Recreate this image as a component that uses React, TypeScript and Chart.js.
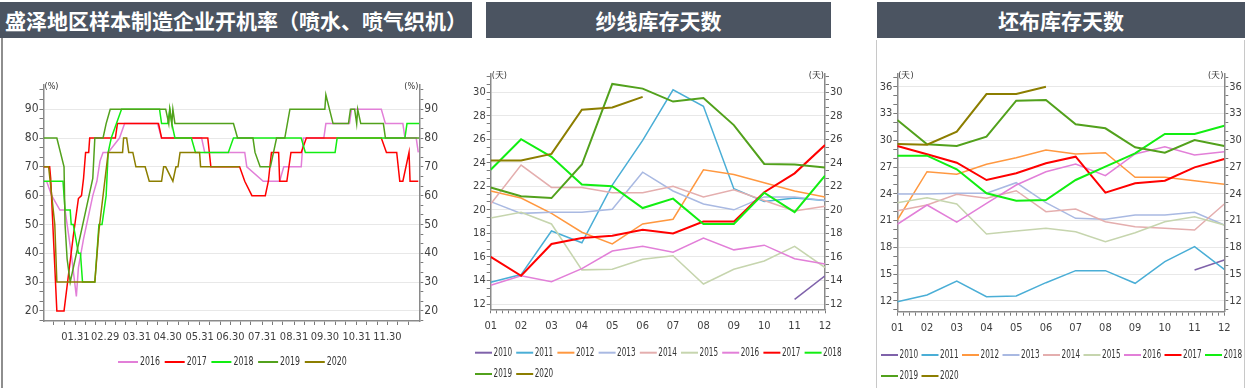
import React, { useEffect, useRef } from 'react';
import { Chart, registerables } from 'chart.js';

Chart.register(...registerables);

const TICK_FONT = '"Liberation Sans Narrow", "DejaVu Sans Condensed", "Liberation Sans", Arial, sans-serif';
const TITLE_BG = '#4b5461';

const yearColors: Record<string, string> = {
  '2010': '#7f62aa',
  '2011': '#4aaed6',
  '2012': '#ff9840',
  '2013': '#a9b9e2',
  '2014': '#e4aeae',
  '2015': '#c6d5ae',
  '2016': '#e27fd8',
  '2017': '#ff0000',
  '2018': '#12ee12',
  '2019': '#52a11c',
  '2020': '#8c7e00',
};

// ---------- Chart 1: operating rate (day of year, %) ----------
const rateYears = ['2016', '2017', '2018', '2019', '2020'];
const rate2016 = [[3,65],[8,60],[16,55],[21,55],[23,50],[27,40],[32,25],[34,35],[39,45],[45,55],[48,60],[52,65],[55,72],[58,75],[63,75],[74,80],[79,85],[111,85],[115,80],[154,80],[157,75],[196,75],[198,70],[214,65],[230,65],[234,70],[251,70],[253,80],[273,80],[275,85],[298,85],[300,90],[329,90],[333,85],[350,85],[352,80],[363,80],[365,75]];
const rate2017 = [[0,70],[6,70],[7,66],[13,20],[20,20],[29,46],[34,59],[37,60],[39,66],[41,75],[44,75],[45,80],[70,80],[72,85],[112,85],[115,80],[160,80],[163,70],[191,70],[196,65],[203,60],[216,60],[219,65],[222,75],[229,75],[230,65],[237,65],[241,75],[251,75],[256,80],[329,80],[334,75],[344,75],[347,65],[350,65],[356,75],[357,65],[365,65]];
const rate2018 = [[0,65],[19,65],[21,55],[26,55],[27,50],[29,50],[34,40],[36,40],[38,30],[50,30],[54,50],[57,50],[61,60],[63,75],[66,80],[76,90],[113,90],[115,85],[121,85],[123,90],[125,85],[128,80],[144,80],[148,75],[180,75],[185,80],[251,80],[255,75],[284,75],[286,80],[352,80],[354,85],[366,85]];
const rate2019 = [[0,80],[13,80],[20,70],[21,50],[23,38],[26,30],[48,66],[50,80],[58,80],[61,85],[65,90],[119,90],[122,85],[123,90],[125,85],[126,90],[128,85],[185,85],[189,80],[204,80],[206,75],[211,70],[221,70],[227,80],[235,80],[240,90],[274,90],[275,95],[282,85],[297,85],[299,90],[303,90],[305,85],[306,90],[309,85],[331,85],[333,80],[366,80]];
const rate2020 = [[0,70],[5,70],[11,50],[13,30],[50,30],[54,48],[63,75],[77,75],[78,80],[81,80],[83,75],[87,75],[90,70],[99,70],[103,65],[115,65],[117,70],[119,70],[126,65],[129,70],[131,70],[133,75],[152,75],[153,70],[191,70]];
const rateSeries = [rate2016, rate2017, rate2018, rate2019, rate2020];
const monthEndDays = [31, 60, 91, 121, 152, 182, 213, 244, 274, 305, 335];
const monthEndLabels = ['01.31', '02.29', '03.31', '04.30', '05.31', '06.30', '07.31', '08.31', '09.30', '10.31', '11.30'];
const monthStartDays = [1, 32, 61, 92, 122, 153, 183, 214, 245, 275, 306, 336];
const rateTicks = [20, 30, 40, 50, 60, 70, 80, 90];

// ---------- Chart 2: yarn inventory days ----------
const months = ['01', '02', '03', '04', '05', '06', '07', '08', '09', '10', '11', '12'];
const stockYears = ['2010', '2011', '2012', '2013', '2014', '2015', '2016', '2017', '2018', '2019', '2020'];
const yarn2010 = [null, null, null, null, null, null, null, null, null, null, 12.4, 14.4];
const yarn2011 = [13.85, 14.5, 18.2, 17.2, 22.1, 25.9, 30.2, 28.8, 21.8, 20.7, 21.0, 20.8];
const yarn2012 = [21.6, 21.0, 19.7, 18.1, 17.1, 18.8, 19.2, 23.4, 23.0, 22.3, 21.6, 21.1];
const yarn2013 = [20.7, 19.7, 19.8, 19.8, 20.05, 23.2, 21.6, 20.5, 20.0, 21.1, 21.1, 20.8];
const yarn2014 = [20.5, 23.8, 21.9, 21.9, 21.45, 21.45, 22.0, 21.1, 21.7, 20.8, 19.9, 20.3];
const yarn2015 = [19.3, 19.8, 18.8, 14.9, 14.95, 15.8, 16.1, 13.7, 14.95, 15.65, 16.9, 15.1];
const yarn2016 = [13.6, 14.4, 13.9, 15.0, 16.5, 16.9, 16.4, 17.6, 16.6, 17.0, 15.85, 15.4];
const yarn2017 = [16.0, 14.4, 17.1, 17.6, 17.8, 18.3, 18.0, 19.0, 19.0, 21.5, 23.1, 25.5];
const yarn2018 = [23.4, 26.0, 24.5, 22.15, 22.0, 20.15, 20.95, 18.8, 18.8, 21.45, 19.8, 22.9];
const yarn2019 = [21.9, 21.15, 21.0, 23.85, 30.7, 30.3, 29.2, 29.5, 27.2, 23.9, 23.85, 23.6];
const yarn2020 = [24.2, 24.2, 24.75, 28.5, 28.7, 29.6];
const yarnSeries = [yarn2010, yarn2011, yarn2012, yarn2013, yarn2014, yarn2015, yarn2016, yarn2017, yarn2018, yarn2019, yarn2020];
const yarnTicks = [12, 14, 16, 18, 20, 22, 24, 26, 28, 30];

// ---------- Chart 3: grey fabric inventory days ----------
const cloth2010 = [null, null, null, null, null, null, null, null, null, null, 15.47, 16.59];
const cloth2011 = [11.92, 12.67, 14.24, 12.48, 12.56, 14.05, 15.4, 15.4, 13.98, 16.4, 18.08, 15.55];
const cloth2012 = [21.07, 26.48, 26.19, 27.31, 28.05, 28.91, 28.46, 28.61, 25.85, 25.85, 25.47, 25.07];
const cloth2013 = [23.98, 23.98, 24.06, 24.06, 25.25, 23.01, 21.26, 21.15, 21.63, 21.63, 21.94, 20.51];
const cloth2014 = [22.11, 22.75, 23.95, 23.5, 24.35, 22.0, 22.3, 20.88, 20.32, 20.14, 19.95, 22.86];
const cloth2015 = [23.01, 23.57, 22.86, 19.5, 19.84, 20.14, 19.76, 18.64, 19.65, 20.88, 21.44, 20.51];
const cloth2016 = [20.59, 22.75, 20.82, 22.94, 24.99, 26.48, 27.34, 26.03, 28.46, 29.28, 28.35, 28.72];
const cloth2017 = [29.36, 28.43, 27.49, 25.55, 26.3, 27.42, 28.16, 24.13, 25.18, 25.47, 26.97, 27.9];
const cloth2018 = [28.27, 28.27, 26.75, 24.06, 23.23, 23.31, 25.55, 27.04, 28.54, 30.7, 30.7, 31.63];
const cloth2019 = [32.27, 29.55, 29.36, 30.4, 34.43, 34.51, 31.79, 31.34, 29.21, 28.61, 30.03, 29.36];
const cloth2020 = [29.58, 29.5, 30.96, 35.18, 35.18, 36.0];
const clothSeries = [cloth2010, cloth2011, cloth2012, cloth2013, cloth2014, cloth2015, cloth2016, cloth2017, cloth2018, cloth2019, cloth2020];
const clothTicks = [12, 15, 18, 21, 24, 27, 30, 33, 36];

// ---------- helpers ----------
function minorTicks(base: number, step: number, div: number, min: number, max: number) {
  const out: number[] = [];
  for (let k = -200; k <= 200; k++) {
    if (k % div === 0) continue;
    const v = base + (k * step) / div;
    if (v >= min - 1e-9 && v <= max + 1e-9) out.push(v);
  }
  return out;
}

const decorPlugin = {
  id: 'decor',
  afterDraw(chart: any, _args: any, opts: any) {
    const ctx = chart.ctx;
    const { left, right, top } = chart.chartArea;
    ctx.save();
    ctx.fillStyle = '#333';
    ctx.font = `9px ${TICK_FONT}`;
    ctx.textBaseline = 'middle';
    ctx.textAlign = 'left';
    ctx.fillText(opts.unit, left + 1, top + 2);
    ctx.textAlign = 'right';
    ctx.fillText(opts.unit, right - 1, top + 2);
    const lg = opts.legend;
    ctx.font = `${lg.size}px ${TICK_FONT}`;
    ctx.textAlign = 'left';
    chart.data.datasets.forEach((d: any, i: number) => {
      const row = Math.floor(i / lg.perRow);
      const col = i % lg.perRow;
      const x = lg.x + col * lg.pitch;
      const y = lg.ys[row];
      ctx.strokeStyle = d.borderColor;
      ctx.lineWidth = 2;
      ctx.beginPath();
      ctx.moveTo(x, y);
      ctx.lineTo(x + lg.swatch, y);
      ctx.stroke();
      const tx = x + lg.swatch + lg.gap;
      const w = ctx.measureText(d.label).width;
      ctx.fillStyle = '#333';
      if (w > lg.textW) {
        ctx.save();
        ctx.translate(tx, y);
        ctx.scale(lg.textW / w, 1);
        ctx.fillText(d.label, 0, 0);
        ctx.restore();
      } else {
        ctx.fillText(d.label, tx, y);
      }
    });
    ctx.restore();
  },
};

function yAxis(pos: 'left' | 'right', min: number, max: number, majors: number[], minors: number[], width: number, size: number) {
  const all = [...majors, ...minors].sort((a, b) => a - b);
  return {
    type: 'linear',
    position: pos,
    min,
    max,
    afterBuildTicks: (s: any) => { s.ticks = all.map((v) => ({ value: v })); },
    afterFit: (s: any) => { s.width = width; },
    ticks: {
      autoSkip: false,
      padding: 1,
      color: '#404040',
      font: { size, family: TICK_FONT },
      callback: (v: number) => (majors.includes(v) ? String(v) : ''),
    },
    grid: {
      drawOnChartArea: pos === 'left',
      color: (c: any) => (c.tick && majors.includes(c.tick.value) ? '#e8e8e8' : 'rgba(0,0,0,0)'),
      tickColor: '#7a7a7a',
      tickLength: 4,
      lineWidth: 1,
    },
    border: { color: '#8a8a8a', width: 1.5 },
  };
}

function xAxis(min: number, max: number, majors: number[], labels: string[], minors: number[], height: number, size: number) {
  const all = [...majors, ...minors].sort((a, b) => a - b);
  return {
    type: 'linear',
    position: 'bottom',
    min,
    max,
    afterBuildTicks: (s: any) => { s.ticks = all.map((v) => ({ value: v })); },
    afterFit: (s: any) => { s.height = height; },
    ticks: {
      autoSkip: false,
      maxRotation: 0,
      minRotation: 0,
      padding: 6,
      color: '#404040',
      font: { size, family: TICK_FONT },
      callback: (v: number) => {
        const i = majors.indexOf(v);
        return i >= 0 ? labels[i] : '';
      },
    },
    grid: {
      drawOnChartArea: false,
      tickColor: '#7a7a7a',
      tickLength: 4,
      lineWidth: 1,
    },
    border: { color: '#8a8a8a', width: 1.5 },
  };
}

function monthlyDatasets(years: string[], series: (number | null)[][]) {
  return years.map((yr, i) => ({
    label: yr,
    data: series[i].map((v, k) => ({ x: k + 1, y: v })),
    borderColor: yearColors[yr],
    backgroundColor: yearColors[yr],
    borderWidth: ['2017', '2018', '2019', '2020'].includes(yr) ? 2 : 1.5,
    pointRadius: 0,
    tension: 0,
    fill: false,
    order: -i,
  }));
}

function rateConfig() {
  const yMin = 16.5, yMax = 98.4;
  const xMinors = monthStartDays.flatMap((s) => [s + 9, s + 19]);
  return {
    type: 'line',
    data: {
      datasets: rateYears.map((yr, i) => ({
        label: yr,
        data: rateSeries[i].map(([x, y]) => ({ x, y })),
        borderColor: yearColors[yr],
        backgroundColor: yearColors[yr],
        borderWidth: 1.5,
        pointRadius: 0,
        tension: 0,
        fill: false,
        order: -i,
      })),
    },
    options: {
      animation: false,
      responsive: false,
      devicePixelRatio: 1,
      layout: { padding: { left: 4.5, right: 20.7, top: 45, bottom: 37 } },
      plugins: {
        legend: { display: false },
        tooltip: { enabled: false },
        decor: { unit: '(%)', legend: { x: 114, ys: [322], perRow: 5, pitch: 46.7, swatch: 20, gap: 2, textW: 20, size: 12 } },
      },
      scales: {
        x: xAxis(0, 366, monthEndDays, monthEndLabels, xMinors, 30, 11),
        y: yAxis('left', yMin, yMax, rateTicks, minorTicks(20, 10, 3, yMin, yMax), 35, 12),
        y2: yAxis('right', yMin, yMax, rateTicks, minorTicks(20, 10, 3, yMin, yMax), 30, 12),
      },
    },
    plugins: [decorPlugin],
  };
}

function stockConfig(series: (number | null)[][], yMin: number, yMax: number, majors: number[], step: number, pad: any, wL: number, wR: number, legend: any) {
  const mins = minorTicks(majors[0], step, 3, yMin, yMax);
  const monthNums = months.map((_, i) => i + 1);
  return {
    type: 'line',
    data: { datasets: monthlyDatasets(stockYears, series) },
    options: {
      animation: false,
      responsive: false,
      devicePixelRatio: 1,
      layout: { padding: pad },
      plugins: {
        legend: { display: false },
        tooltip: { enabled: false },
        decor: { unit: '(天)', legend },
      },
      scales: {
        x: xAxis(1, 12, monthNums, months, minorTicks(1, 1, 5, 1, 12), 25, 11),
        y: yAxis('left', yMin, yMax, majors, mins, wL, 11),
        y2: yAxis('right', yMin, yMax, majors, mins, wR, 11),
      },
    },
    plugins: [decorPlugin],
  };
}

function ChartBox({ config, left, top, width, height }: any) {
  const ref = useRef<HTMLCanvasElement | null>(null);
  useEffect(() => {
    const chart = new Chart(ref.current as HTMLCanvasElement, config());
    return () => chart.destroy();
  }, []);
  return (
    <canvas
      ref={ref}
      width={width}
      height={height}
      style={{ position: 'absolute', left, top, width, height }}
    />
  );
}

function TitleBar({ text, left, width }: any) {
  return (
    <div
      style={{
        position: 'absolute',
        left,
        top: 2,
        width,
        height: 36,
        background: TITLE_BG,
        color: '#fff',
        fontFamily: '"Noto Sans CJK SC", sans-serif',
        fontWeight: 700,
        fontSize: 21,
        lineHeight: '36px',
        textAlign: 'center',
        whiteSpace: 'nowrap',
        overflow: 'hidden',
      }}
    >
      {text}
    </div>
  );
}

export default function App() {
  return (
    <div style={{ position: 'fixed', left: 0, top: 0, width: 1249, height: 388, background: '#fff', overflow: 'hidden' }}>
      <TitleBar text="盛泽地区样本制造企业开机率（喷水、喷气织机）" left={0} width={472} />
      <TitleBar text="纱线库存天数" left={486} width={345} />
      <TitleBar text="坯布库存天数" left={877} width={368} />
      <div style={{ position: 'absolute', left: 1, top: 38, width: 2, height: 350, background: '#8e8e8e' }} />
      <div style={{ position: 'absolute', left: 876, top: 40, width: 1, height: 348, background: '#c8c8c8' }} />
      <div style={{ position: 'absolute', left: 1244, top: 40, width: 1, height: 348, background: '#c8c8c8' }} />
      <ChartBox config={rateConfig} left={4} top={40} width={466} height={348} />
      <ChartBox
        config={() => stockConfig(yarnSeries, 11.55, 31.6, yarnTicks, 2, { left: 0, right: 0, top: 33.3, bottom: 53.7 }, 18.7, 17,
          { x: 3, ys: [312.7, 334], perRow: 9, pitch: 41.2, swatch: 17, gap: 1.5, textW: 18.5, size: 12 })}
        left={472} top={40} width={370} height={348}
      />
      <ChartBox
        config={() => stockConfig(clothSeries, 10.8, 37.5, clothTicks, 3, { left: 0, right: 0, top: 33.3, bottom: 51.3 }, 20.3, 22.7,
          { x: 4, ys: [315, 336], perRow: 9, pitch: 40.5, swatch: 17, gap: 1.5, textW: 18.5, size: 12 })}
        left={877} top={40} width={370} height={348}
      />
    </div>
  );
}
